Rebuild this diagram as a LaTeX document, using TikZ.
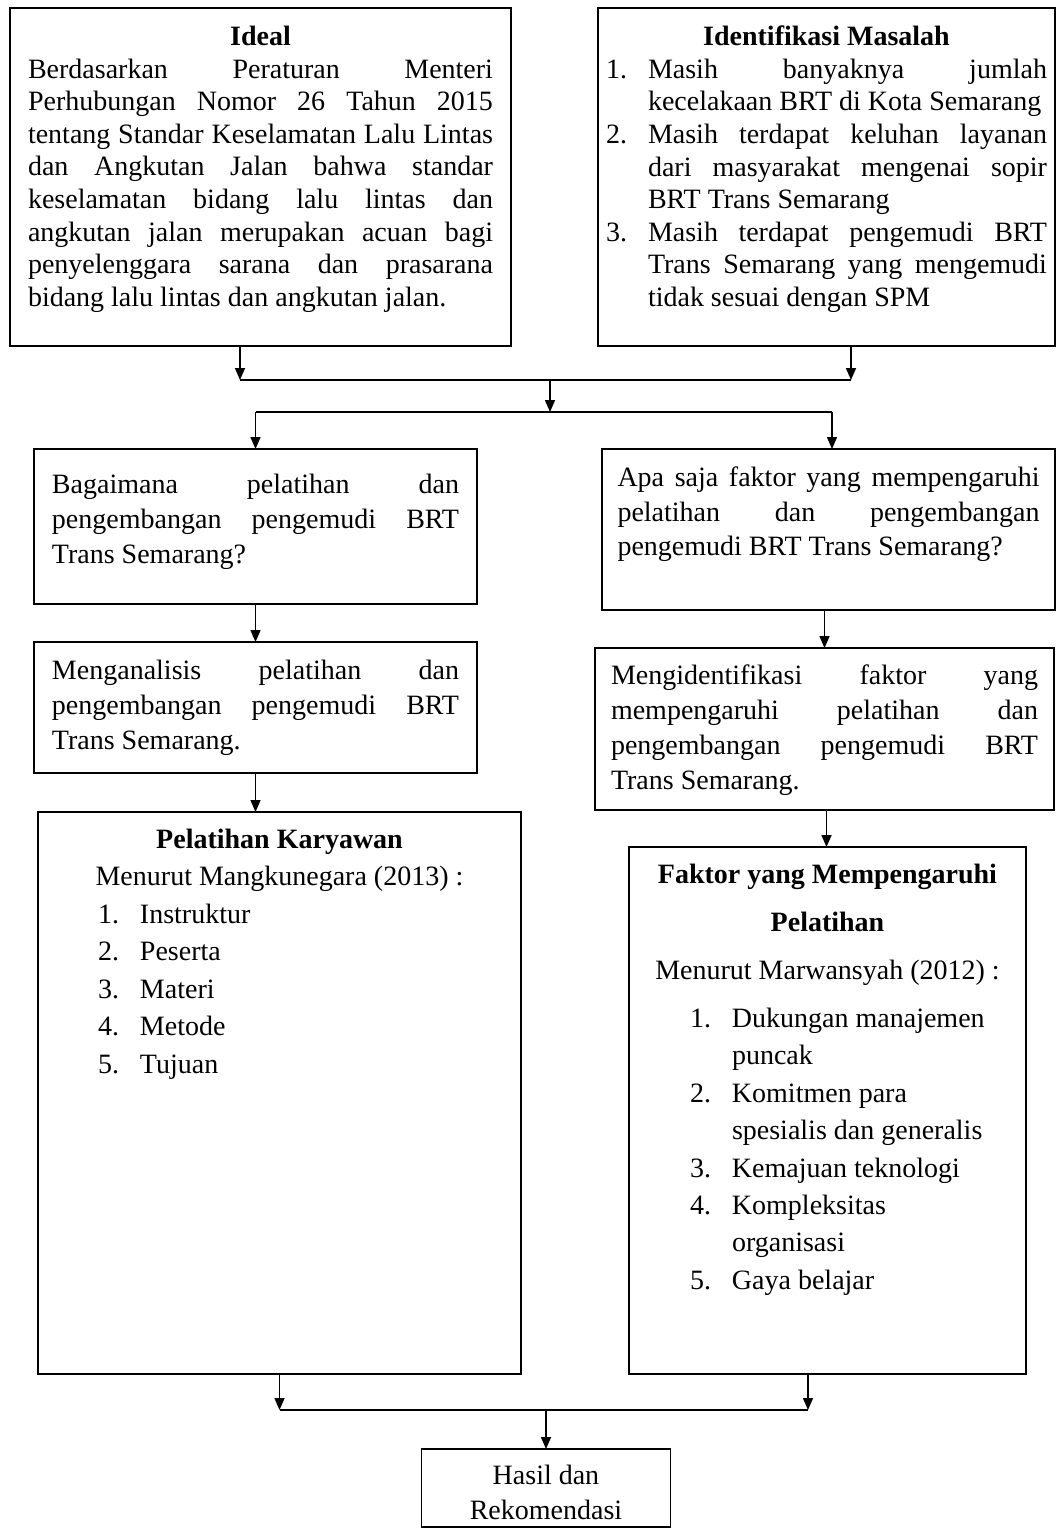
\documentclass[tikz,border=0pt]{standalone}
\usepackage{fontspec}
\setmainfont{Liberation Serif}
\usepackage{tikz}
\usetikzlibrary{arrows.meta}
\usetikzlibrary{positioning}
\tolerance=9999
% one numbered point of a list, with hanging indent
\newcommand{\butir}[2]{\par\noindent\hangindent=21pt\hangafter=1\makebox[21pt][l]{#1}#2\par}
\tikzset{
    kotak/.style={
           rectangle,
           draw=black, line width=0.75pt,
           outer sep=0pt,
           inner xsep=9pt,
           inner ysep=9pt,
           font=\fontsize{14}{17.5}\selectfont,
           },
    garis/.style={line width=0.75pt},
}

\begin{document}
\begin{tikzpicture}[x=0.5pt,y=-0.5pt,>={Triangle[width=5pt,length=6pt]}]
 \useasboundingbox (0,0) rectangle (1056,1528);

 % Ideal and Identifikasi Masalah on top
 % parbox keeps the text at the top of the box
 \node[kotak,
  anchor=north west,
  font=\fontsize{14}{16.3}\selectfont] (Ideal) at (10,8)
 {\parbox[c][151pt][t]{232.5pt}{{\centering\textbf{Ideal}\par}
  Berdasarkan Peraturan Menteri\linebreak
  Perhubungan Nomor 26 Tahun 2015\linebreak
  tentang Standar Keselamatan Lalu Lintas\linebreak
  dan Angkutan Jalan bahwa standar\linebreak
  keselamatan bidang lalu lintas dan\linebreak
  angkutan jalan merupakan acuan bagi\linebreak
  penyelenggara sarana dan prasarana\linebreak
  bidang lalu lintas dan angkutan jalan.}};

 \node[kotak,
  anchor=north west,
  inner xsep=4pt,
  font=\fontsize{14}{16.3}\selectfont] (Identifikasi) at (598,8)
 {\parbox[c][151pt][t]{220.5pt}{{\centering\textbf{Identifikasi Masalah}\par}
  \hyphenpenalty=10000
  \butir{1.}{Masih banyaknya jumlah\linebreak kecelakaan BRT di Kota Semarang}
  \butir{2.}{Masih terdapat keluhan layanan\linebreak dari masyarakat mengenai sopir\linebreak BRT Trans Semarang}
  \butir{3.}{Masih terdapat pengemudi BRT\linebreak Trans Semarang yang mengemudi\linebreak tidak sesuai dengan SPM}}};

 % the two questions
 \node[kotak,
  anchor=north west,
  inner ysep=12.5pt] (Bagaimana) at (34,449)
 {\parbox[c][52.5pt][t]{203.5pt}{Bagaimana pelatihan dan\linebreak
  pengembangan pengemudi BRT\linebreak Trans Semarang?}};

 \node[kotak,
  anchor=north west,
  inner xsep=7.75pt,
  inner ysep=9pt,
  font=\fontsize{14}{17.25}\selectfont] (Apa Saja) at (602,449)
 {\parbox[c][62.5pt][t]{211pt}{Apa saja faktor yang mempengaruhi\linebreak
  pelatihan dan pengembangan\linebreak pengemudi BRT Trans Semarang?}};

 % the two aims
 \node[kotak,
  below=19pt of Bagaimana] (Menganalisis)
 {\parbox[c][47.5pt][t]{203.5pt}{Menganalisis pelatihan dan\linebreak
  pengembangan pengemudi BRT\linebreak Trans Semarang.}};

 \node[kotak,
  below=19pt of Apa Saja,
  xshift=-2pt,
  inner xsep=8pt,
  inner ysep=8.5pt] (Mengidentifikasi)
 {\parbox[c][64pt][t]{213.5pt}{Mengidentifikasi faktor yang\linebreak
  mempengaruhi pelatihan dan\linebreak
  pengembangan pengemudi BRT\linebreak Trans Semarang.}};

 % the two theories
 \node[kotak,
  below=19.5pt of Menganalisis,
  xshift=12pt,
  inner ysep=8.5pt,
  font=\fontsize{14}{18.75}\selectfont] (Pelatihan)
 {\parbox[c][264pt][t]{223.5pt}{\centering\textbf{Pelatihan Karyawan}\par
  Menurut Mangkunegara (2013) :\par
  \raggedright\leftskip=21pt
  \butir{1.}{Instruktur}
  \butir{2.}{Peserta}
  \butir{3.}{Materi}
  \butir{4.}{Metode}
  \butir{5.}{Tujuan}}};

 \node[kotak,
  below=18.5pt of Mengidentifikasi,
  xshift=1.5pt,
  inner ysep=8.5pt,
  font=\fontsize{14}{24}\selectfont] (Faktor)
 {\parbox[c][246.5pt][t]{180.5pt}{\centering\textbf{Faktor yang Mempengaruhi\\ Pelatihan}\par
  Menurut Marwansyah (2012) :\par
  \vspace{5.3pt}\fontsize{14}{18.7}\selectfont
  \raggedright\leftskip=21.5pt
  \butir{1.}{Dukungan manajemen\newline puncak}
  \butir{2.}{Komitmen para\newline spesialis dan generalis}
  \butir{3.}{Kemajuan teknologi}
  \butir{4.}{Kompleksitas\newline organisasi}
  \butir{5.}{Gaya belajar}}};

 % junctions of the connectors
 \coordinate (gabung atas) at (550,380);
 \coordinate (cabang atas) at (550,412);
 \coordinate (gabung bawah) at (546,1410);
 \coordinate (Ideal keluar) at ([xshift=-10.25pt]Ideal.south);
 \coordinate (Identifikasi keluar) at ([xshift=12.25pt]Identifikasi.south);
 \coordinate (Apa Saja masuk) at ([xshift=1.75pt]Apa Saja.north);
 \coordinate (Faktor keluar) at ([xshift=-9.75pt]Faktor.south);

 \node[kotak,
  below=19.5pt of gabung bawah,
  inner xsep=6pt,
  inner ysep=0pt] (Hasil)
 {\parbox[c][39pt][t]{112.5pt}{\centering\vspace*{8pt}Hasil dan\\ Rekomendasi}};

 % draw the connectors
 \draw[->,garis] (Ideal keluar) -- (Ideal keluar |- gabung atas);
 \draw[->,garis] (Identifikasi keluar) -- (Identifikasi keluar |- gabung atas);
 \draw[garis] (Ideal keluar |- gabung atas) -- (Identifikasi keluar |- gabung atas);
 \draw[->,garis] (gabung atas) -- (cabang atas);
 \draw[garis] (Bagaimana.north |- cabang atas) -- (Apa Saja masuk |- cabang atas);
 \draw[->,garis] (Bagaimana.north |- cabang atas) -- (Bagaimana.north);
 \draw[->,garis] (Apa Saja masuk |- cabang atas) -- (Apa Saja masuk);

 \draw[->,garis] (Bagaimana.south) -- (Menganalisis.north);
 \draw[->,garis] (Mengidentifikasi.north |- Apa Saja.south) -- (Mengidentifikasi.north);
 \draw[->,garis] (Menganalisis.south) -- (Menganalisis.south |- Pelatihan.north);
 \draw[->,garis] ([xshift=1pt]Mengidentifikasi.south) -- ([xshift=1pt]Mengidentifikasi.south |- Faktor.north);

 \draw[->,garis] (Pelatihan.south) -- (Pelatihan.south |- gabung bawah);
 \draw[->,garis] (Faktor keluar) -- (Faktor keluar |- gabung bawah);
 \draw[garis] (Pelatihan.south |- gabung bawah) -- (Faktor keluar |- gabung bawah);
 \draw[->,garis] (gabung bawah) -- (Hasil.north);

\end{tikzpicture}
\end{document}
